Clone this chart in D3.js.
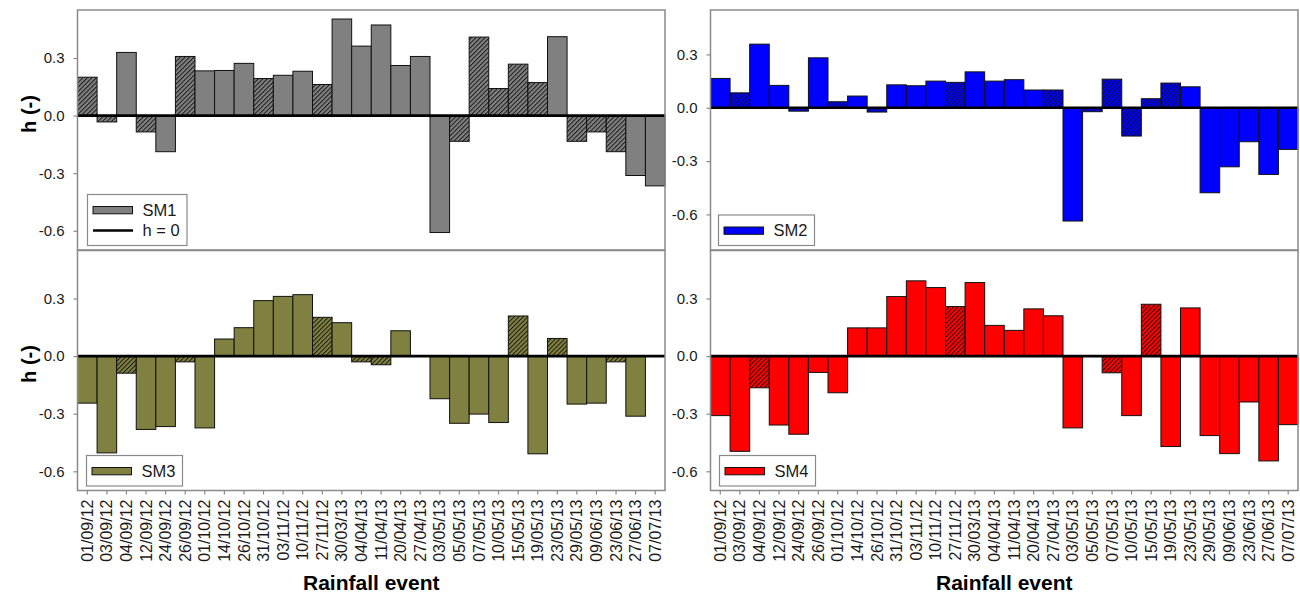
<!DOCTYPE html>
<html>
<head>
<meta charset="utf-8">
<script src="https://cdn.jsdelivr.net/npm/d3@7"></script>
<style>
  html, body { margin: 0; padding: 0; background: #fff; }
  svg { display: block; font-family: "Liberation Sans", Arial, sans-serif; }
</style>
</head>
<body>
<svg id="chart" width="1300" height="594"></svg>
<script>
// Rainfall events (x categories)
const categories = ["01/09/12","03/09/12","04/09/12","12/09/12","24/09/12","26/09/12","01/10/12","14/10/12",
  "26/10/12","31/10/12","03/11/12","10/11/12","27/11/12","30/03/13","04/04/13","11/04/13","20/04/13",
  "27/04/13","03/05/13","05/05/13","07/05/13","10/05/13","15/05/13","19/05/13","23/05/13","29/05/13",
  "09/06/13","23/06/13","27/06/13","07/07/13"];

// h (-) per event for each soil-moisture sensor; *Hatched flags mark the hatched bars
const sm1Values = [0.200,-0.033,0.329,-0.085,-0.188,0.308,0.233,0.235,0.272,0.193,0.210,0.231,0.162,0.503,0.362,
  0.472,0.261,0.308,-0.609,-0.134,0.409,0.141,0.268,0.172,0.411,-0.134,-0.085,-0.188,-0.312,-0.366];
const sm1Hatched = [1,1,0,1,0,1,0,0,0,1,0,0,1,0,0,0,0,0,0,1,1,1,1,1,0,1,1,1,0,0];

const sm2Values = [0.165,0.084,0.358,0.126,-0.019,0.281,0.034,0.066,-0.024,0.129,0.124,0.150,0.143,0.202,0.150,
  0.158,0.100,0.100,-0.637,-0.022,0.161,-0.159,0.051,0.139,0.118,-0.478,-0.332,-0.191,-0.375,-0.234];
const sm2Hatched = [0,1,0,0,1,0,1,0,1,0,0,0,1,0,0,0,0,1,0,1,1,1,1,1,0,0,0,0,0,0];

const sm3Values = [-0.245,-0.504,-0.089,-0.382,-0.367,-0.030,-0.374,0.089,0.148,0.289,0.311,0.320,0.202,0.174,-0.030,
  -0.045,0.132,0,-0.222,-0.350,-0.302,-0.346,0.209,-0.509,0.092,-0.250,-0.245,-0.030,-0.313,0];
const sm3Hatched = [0,0,1,0,0,1,0,0,0,0,0,0,1,0,1,1,0,0,0,0,0,0,1,0,1,0,0,1,0,0];

const sm4Values = [-0.310,-0.496,-0.165,-0.359,-0.407,-0.085,-0.191,0.147,0.147,0.310,0.392,0.357,0.258,0.383,0.160,
  0.134,0.246,0.210,-0.374,0,-0.087,-0.310,0.270,-0.471,0.251,-0.414,-0.508,-0.239,-0.546,-0.357];
const sm4Hatched = [0,0,1,0,0,0,0,0,0,0,0,0,1,0,0,0,0,0,0,0,1,0,1,0,0,0,0,0,0,0];

const yTicks = [0.3, 0.0, -0.3, -0.6];
const yTitle = "h (-)";
const xTitle = "Rainfall event";

const panels = [
  { name: "SM1", values: sm1Values, hatched: sm1Hatched, color: "#808080", domain: [-0.7, 0.55],
    x: 77.5, y: 10, bottom: false, zeroEntry: true, legend: { x: 87.5, y: 194.5 } },
  { name: "SM2", values: sm2Values, hatched: sm2Hatched, color: "#0000ff", domain: [-0.8, 0.55],
    x: 710.5, y: 10, bottom: false, zeroEntry: false, legend: { x: 718.5, y: 215 } },
  { name: "SM3", values: sm3Values, hatched: sm3Hatched, color: "#808040", domain: [-0.7, 0.55],
    x: 77.5, y: 250.5, bottom: true, zeroEntry: false, legend: { x: 86.5, y: 455.5 } },
  { name: "SM4", values: sm4Values, hatched: sm4Hatched, color: "#ff0000", domain: [-0.7, 0.55],
    x: 710.5, y: 250.5, bottom: true, zeroEntry: false, legend: { x: 719.5, y: 455.5 } }
];

const W = 587.5, H = 240;
const frameColor = "#8a8a8a";
const textColor = "#1a1a1a";

const svg = d3.select("#chart");
const defs = svg.append("defs");

// diagonal hatch pattern for each fill colour
panels.forEach(p => {
  const pat = defs.append("pattern")
    .attr("id", "hatch-" + p.name)
    .attr("patternUnits", "userSpaceOnUse")
    .attr("width", 3.2).attr("height", 3.2)
    .attr("patternTransform", "rotate(45)");
  pat.append("rect").attr("width", 3.2).attr("height", 3.2).attr("fill", p.color);
  pat.append("line").attr("x1", 0.5).attr("y1", 0).attr("x2", 0.5).attr("y2", 3.2)
    .attr("stroke", "#111").attr("stroke-width", 0.9);
});

panels.forEach(p => {
  const g = svg.append("g").attr("transform", `translate(${p.x},${p.y})`);
  const x = d3.scaleBand().domain(categories).range([0, W]).padding(0);
  const y = d3.scaleLinear().domain(p.domain).range([H, 0]);

  // bars
  g.append("g").selectAll("rect")
    .data(p.values.map((v, i) => ({ cat: categories[i], v, h: p.hatched[i] })))
    .join("rect")
    .attr("x", d => x(d.cat))
    .attr("width", x.bandwidth())
    .attr("y", d => y(Math.max(0, d.v)))
    .attr("height", d => Math.abs(y(d.v) - y(0)))
    .attr("fill", d => d.h ? `url(#hatch-${p.name})` : p.color)
    .attr("stroke", "#111")
    .attr("stroke-width", 1)
    .attr("display", d => d.v === 0 ? "none" : null);

  // h = 0 reference line
  g.append("line")
    .attr("x1", 0).attr("x2", W)
    .attr("y1", y(0)).attr("y2", y(0))
    .attr("stroke", "#000").attr("stroke-width", 2.6);

  // y axis
  const yAxis = g.append("g")
    .call(d3.axisLeft(y).tickValues(yTicks).tickSize(4).tickPadding(9).tickFormat(d => d.toFixed(1)));
  yAxis.select(".domain").remove();
  yAxis.selectAll(".tick line").attr("stroke", frameColor).attr("stroke-width", 1.2);
  yAxis.selectAll(".tick text").attr("fill", textColor).style("font-size", "15px")
    .style("font-family", "'Liberation Sans', Arial, sans-serif");

  // x axis (bottom row only)
  if (p.bottom) {
    const xAxis = g.append("g").attr("transform", `translate(0,${H})`)
      .call(d3.axisBottom(x).tickSize(4).tickPadding(0));
    xAxis.select(".domain").remove();
    xAxis.selectAll(".tick line").attr("stroke", frameColor).attr("stroke-width", 1.2);
    xAxis.selectAll(".tick text")
      .attr("fill", textColor)
      .style("font-size", "16px")
      .style("font-family", "'Liberation Sans', Arial, sans-serif")
      .attr("transform", "rotate(-90)")
      .attr("text-anchor", "end")
      .attr("x", -9).attr("y", 0).attr("dy", "0.35em");

    g.append("text")
      .attr("x", W / 2).attr("y", H + 99)
      .attr("text-anchor", "middle")
      .attr("fill", "#000")
      .style("font-size", "21px").style("font-weight", "bold")
      .text(xTitle);
  }

  // frame
  g.append("rect")
    .attr("x", 0).attr("y", 0).attr("width", W).attr("height", H)
    .attr("fill", "none").attr("stroke", frameColor).attr("stroke-width", 1.5);

  // legend
  const lg = svg.append("g").attr("transform", `translate(${p.legend.x},${p.legend.y})`);
  const rows = p.zeroEntry ? 2 : 1;
  const boxW = p.zeroEntry ? 99.5 : 96;
  const boxH = p.zeroEntry ? 51 : 30.5;
  lg.append("rect").attr("width", boxW).attr("height", boxH)
    .attr("fill", "#fff").attr("stroke", frameColor).attr("stroke-width", 1.2);
  const rowY = 15.5;
  lg.append("rect").attr("x", 5.5).attr("y", rowY - 3.5).attr("width", 39.5).attr("height", 7.3)
    .attr("fill", p.color).attr("stroke", "#111").attr("stroke-width", 1);
  lg.append("text").attr("x", 55).attr("y", rowY).attr("dy", "0.36em")
    .attr("fill", textColor).style("font-size", "16.5px").text(p.name);
  if (rows === 2) {
    lg.append("line").attr("x1", 5.5).attr("x2", 45.5).attr("y1", 36).attr("y2", 36)
      .attr("stroke", "#000").attr("stroke-width", 2.6);
    lg.append("text").attr("x", 55).attr("y", 36).attr("dy", "0.36em")
      .attr("fill", textColor).style("font-size", "16.5px").text("h = 0");
  }
});

// y axis titles
[114, 364].forEach(cy => {
  svg.append("text")
    .attr("transform", `translate(36,${cy}) rotate(-90)`)
    .attr("text-anchor", "middle")
    .attr("fill", "#000")
    .style("font-size", "20px").style("font-weight", "bold")
    .text(yTitle);
});
</script>
</body>
</html>
